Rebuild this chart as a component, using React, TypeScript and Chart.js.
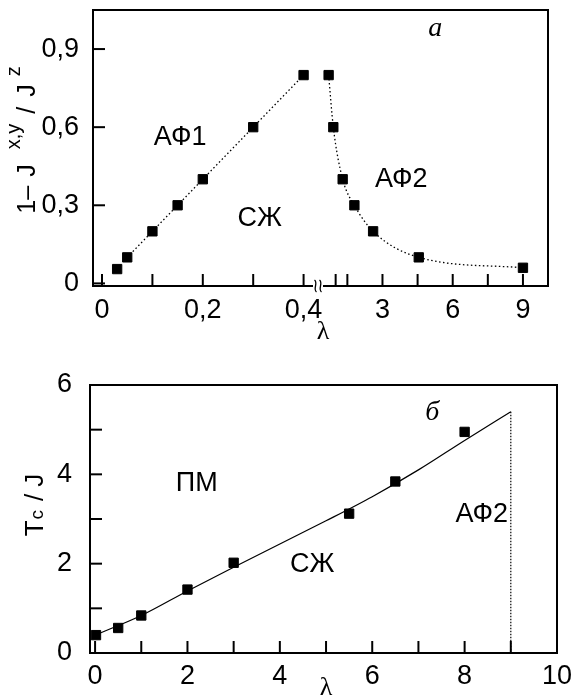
import React, { useEffect, useRef } from 'react';
import { Chart, registerables } from 'chart.js';

Chart.register(...registerables);

const SANS = '"Liberation Sans", Arial, Helvetica, sans-serif';
const SERIF = '"Liberation Serif", "Times New Roman", serif';

// ---------- panel a (top) ----------
const topLeftLambda = [0.03, 0.05, 0.1, 0.15, 0.2, 0.3, 0.4];
const topLeftValue = [0.055, 0.1, 0.2, 0.3, 0.4, 0.6, 0.8];
const topRightLambda = [0.7, 0.9, 1.3, 1.8, 2.6, 4.55, 9];
const topRightValue = [0.8, 0.6, 0.4, 0.3, 0.2, 0.1, 0.06];

const topYTicks = [0, 0.3, 0.6, 0.9];
const topLeftTicks = [0, 0.1, 0.2, 0.3, 0.4];
const topLeftLabels = [0, 0.2, 0.4];
const topRightTicks = [1, 1.5, 3, 4.5, 6, 7.5, 9];
const topRightLabels = [3, 6, 9];

const topRegionText = ['АФ1', 'СЖ', 'АФ2'];
const topRegionAxis = ['x1', 'x1', 'x2'];
const topRegionLambda = [0.155, 0.313, 3.8];
const topRegionValue = [0.56, 0.25, 0.4];
const topPanelLetter = 'а';
const topPanelLetterLambda = 5.25;
const topPanelLetterValue = 0.98;

// ---------- panel б (bottom) ----------
const tcLambda = [0.02, 0.5, 1, 2, 3, 5.5, 6.5, 8];
const tcValue = [0.4, 0.56, 0.84, 1.42, 2.02, 3.12, 3.84, 4.95];
const fitLambda = [0, 1, 2, 3, 4, 5, 6, 7, 8, 9];
const fitValue = [0.4, 0.84, 1.39, 1.92, 2.44, 2.96, 3.5, 4.1, 4.76, 5.4];
const boundaryLambda = [9, 9];
const boundaryValue = [5.4, 0];

const botXTicks = [0, 1, 2, 3, 4, 5, 6, 7, 8, 9, 10];
const botXLabels = [0, 2, 4, 6, 8, 10];
const botYTicks = [0, 1, 2, 3, 4, 5, 6];
const botYLabels = [0, 2, 4, 6];

const botRegionText = ['ПМ', 'СЖ', 'АФ2'];
const botRegionLambda = [2.2, 4.7, 8.37];
const botRegionValue = [3.8, 1.97, 3.11];
const botPanelLetter = 'б';
const botPanelLetterLambda = 7.3;
const botPanelLetterValue = 5.37;

const TICK_FONT = 27;
const fmt = (v: number) => (v === 0 ? '0' : String(v).replace('.', ','));
const pts = (xs: number[], ys: number[]) => xs.map((x, i) => ({ x, y: ys[i] }));

type Part = { text: string; size: number; dy: number; gap: number };

function drawRotated(ctx: CanvasRenderingContext2D, cx: number, cy: number, parts: Part[]) {
  ctx.save();
  ctx.translate(cx, cy);
  ctx.rotate(-Math.PI / 2);
  ctx.fillStyle = '#000';
  ctx.textAlign = 'left';
  ctx.textBaseline = 'alphabetic';
  let total = 0;
  for (const p of parts) {
    ctx.font = `${p.size}px ${SANS}`;
    total += p.gap + ctx.measureText(p.text).width;
  }
  let x = -total / 2;
  for (const p of parts) {
    ctx.font = `${p.size}px ${SANS}`;
    x += p.gap;
    ctx.fillText(p.text, x, p.dy);
    x += ctx.measureText(p.text).width;
  }
  ctx.restore();
}

function tickMarks(chart: any) {
  const { ctx, chartArea: a } = chart;
  const len = 12;
  ctx.save();
  ctx.strokeStyle = '#000';
  ctx.lineWidth = 2;
  Object.values(chart.scales).forEach((s: any) => {
    const list: number[] = s.options.markTicks || [];
    list.forEach((v) => {
      const p = s.getPixelForValue(v);
      ctx.beginPath();
      if (s.isHorizontal()) {
        ctx.moveTo(p, a.bottom);
        ctx.lineTo(p, a.bottom - len);
      } else {
        ctx.moveTo(a.left, p);
        ctx.lineTo(a.left + len, p);
      }
      ctx.stroke();
    });
  });
  ctx.restore();
}

const markerDs = (data: any[], xAxisID: string) => ({
  data,
  xAxisID,
  yAxisID: 'y',
  showLine: false,
  pointStyle: 'rect',
  pointRadius: 6.6,
  pointHoverRadius: 6.6,
  backgroundColor: '#000',
  borderColor: '#000',
  borderWidth: 1,
});

const lineDs = (data: any[], xAxisID: string, dash: number[], width: number, mono: boolean) => ({
  data,
  xAxisID,
  yAxisID: 'y',
  showLine: true,
  pointRadius: 0,
  pointHoverRadius: 0,
  borderColor: '#000',
  borderWidth: width,
  borderDash: dash,
  cubicInterpolationMode: mono ? 'monotone' : 'default',
  fill: false,
});

const tickCfg = (labels: number[], padding: number) => ({
  autoSkip: false,
  maxRotation: 0,
  minRotation: 0,
  padding,
  color: '#000',
  font: { family: SANS, size: TICK_FONT, lineHeight: 1 },
  callback: (v: any) => (labels.includes(Number(v)) ? fmt(Number(v)) : ''),
});

const fitX = (h: number) => (s: any) => {
  s.height = h;
  s.paddingLeft = 0;
  s.paddingRight = 0;
};
const fitY = (w: number) => (s: any) => {
  s.width = w;
  s.paddingTop = 0;
  s.paddingBottom = 0;
};

export default function App() {
  const topRef = useRef<HTMLCanvasElement>(null);
  const botRef = useRef<HTMLCanvasElement>(null);

  useEffect(() => {
    // ----- top chart -----
    const topPlugin = {
      id: 'topDecor',
      beforeDatasetsDraw(chart: any) {
        const { ctx, chartArea: a } = chart;
        const x1 = chart.scales.x1;
        const x2 = chart.scales.x2;
        const brk = (x1.right + x2.left) / 2;
        ctx.save();
        ctx.strokeStyle = '#000';
        ctx.lineWidth = 2;
        ctx.beginPath();
        ctx.moveTo(brk - 5, a.bottom);
        ctx.lineTo(a.left, a.bottom);
        ctx.lineTo(a.left, a.top);
        ctx.lineTo(a.right, a.top);
        ctx.lineTo(a.right, a.bottom);
        ctx.lineTo(brk + 5, a.bottom);
        ctx.stroke();
        ctx.lineWidth = 1.3;
        [-2.5, 2.5].forEach((off) => {
          const cx = brk + off;
          ctx.beginPath();
          ctx.moveTo(cx - 1, a.bottom - 6);
          ctx.bezierCurveTo(cx + 3, a.bottom - 3, cx - 3, a.bottom + 3, cx + 1, a.bottom + 6);
          ctx.stroke();
        });
        ctx.restore();
        tickMarks(chart);
      },
      afterDraw(chart: any) {
        const { ctx } = chart;
        const y = chart.scales.y;
        ctx.save();
        ctx.fillStyle = '#000';
        ctx.textAlign = 'center';
        ctx.textBaseline = 'middle';
        ctx.font = `${TICK_FONT}px ${SANS}`;
        topRegionText.forEach((t, i) => {
          const sx = chart.scales[topRegionAxis[i]];
          ctx.fillText(t, sx.getPixelForValue(topRegionLambda[i]), y.getPixelForValue(topRegionValue[i]));
        });
        ctx.font = `italic 28px ${SERIF}`;
        ctx.fillText(topPanelLetter, chart.scales.x2.getPixelForValue(topPanelLetterLambda), y.getPixelForValue(topPanelLetterValue));
        ctx.font = `26px ${SERIF}`;
        ctx.fillText('λ', 323, 332);
        ctx.restore();
        drawRotated(ctx, 35, 140, [
          { text: '1–', size: 25, dy: 0, gap: 0 },
          { text: 'J', size: 25, dy: 0, gap: 9 },
          { text: 'x,y', size: 20, dy: -15, gap: 15 },
          { text: '/', size: 25, dy: 0, gap: 10 },
          { text: 'J', size: 25, dy: 0, gap: 10 },
          { text: 'z', size: 20, dy: -15, gap: 8 },
        ]);
      },
    };

    const top = new Chart(topRef.current as HTMLCanvasElement, {
      type: 'scatter',
      data: {
        datasets: [
          markerDs(pts(topLeftLambda, topLeftValue), 'x1'),
          lineDs(pts(topLeftLambda.slice(1), topLeftValue.slice(1)), 'x1', [1.5, 2.5], 1.3, false),
          lineDs(pts(topRightLambda, topRightValue), 'x2', [1.5, 2.5], 1.3, true),
          markerDs(pts(topRightLambda, topRightValue), 'x2'),
        ] as any,
      },
      options: {
        animation: false,
        responsive: false,
        events: [],
        layout: { padding: { left: 0, top: 10, right: 25, bottom: 0 } },
        plugins: { legend: { display: false }, tooltip: { enabled: false } },
        scales: {
          x1: {
            type: 'linear',
            position: 'bottom',
            stack: 'xb',
            stackWeight: 225,
            min: -0.0179,
            max: 0.4286,
            markTicks: topLeftTicks,
            grid: { display: false },
            border: { display: false },
            afterBuildTicks: (s: any) => { s.ticks = topLeftTicks.map((v) => ({ value: v })); },
            afterFit: fitX(59),
            ticks: tickCfg(topLeftLabels, 3),
          } as any,
          x2: {
            type: 'linear',
            position: 'bottom',
            stack: 'xb',
            stackWeight: 230,
            min: 0.246,
            max: 10.07,
            markTicks: topRightTicks,
            grid: { display: false },
            border: { display: false },
            afterBuildTicks: (s: any) => { s.ticks = topRightTicks.map((v) => ({ value: v })); },
            afterFit: fitX(59),
            ticks: tickCfg(topRightLabels, 3),
          } as any,
          y: {
            type: 'linear',
            position: 'left',
            min: -0.01,
            max: 1.05,
            markTicks: topYTicks,
            grid: { display: false },
            border: { display: false },
            afterBuildTicks: (s: any) => { s.ticks = topYTicks.map((v) => ({ value: v })); },
            afterFit: fitY(93),
            ticks: tickCfg(topYTicks, 6),
          } as any,
        },
      },
      plugins: [topPlugin],
    });

    // ----- bottom chart -----
    const botPlugin = {
      id: 'botDecor',
      beforeDatasetsDraw(chart: any) {
        const { ctx, chartArea: a } = chart;
        ctx.save();
        ctx.strokeStyle = '#000';
        ctx.lineWidth = 2;
        ctx.strokeRect(a.left, a.top, a.right - a.left, a.bottom - a.top);
        ctx.restore();
        tickMarks(chart);
      },
      afterDraw(chart: any) {
        const { ctx } = chart;
        const x = chart.scales.x;
        const y = chart.scales.y;
        ctx.save();
        ctx.fillStyle = '#000';
        ctx.textAlign = 'center';
        ctx.textBaseline = 'middle';
        ctx.font = `${TICK_FONT}px ${SANS}`;
        botRegionText.forEach((t, i) => {
          ctx.fillText(t, x.getPixelForValue(botRegionLambda[i]), y.getPixelForValue(botRegionValue[i]));
        });
        ctx.font = `italic 28px ${SERIF}`;
        ctx.fillText(botPanelLetter, x.getPixelForValue(botPanelLetterLambda), y.getPixelForValue(botPanelLetterValue));
        ctx.font = `26px ${SERIF}`;
        ctx.fillText('λ', 326, 343);
        ctx.restore();
        drawRotated(ctx, 43, 160, [
          { text: 'T', size: 26, dy: 0, gap: 0 },
          { text: 'c', size: 19, dy: 0, gap: 1 },
          { text: '/', size: 26, dy: 0, gap: 9 },
          { text: 'J', size: 26, dy: 0, gap: 7 },
        ]);
      },
    };

    const bot = new Chart(botRef.current as HTMLCanvasElement, {
      type: 'scatter',
      data: {
        datasets: [
          lineDs(pts(fitLambda, fitValue), 'x', [], 1.2, true),
          lineDs(pts(boundaryLambda, boundaryValue), 'x', [1.5, 1.5], 1.2, false),
          markerDs(pts(tcLambda, tcValue), 'x'),
        ] as any,
      },
      options: {
        animation: false,
        responsive: false,
        events: [],
        layout: { padding: { left: 0, top: 40, right: 16, bottom: 0 } },
        plugins: { legend: { display: false }, tooltip: { enabled: false } },
        scales: {
          x: {
            type: 'linear',
            position: 'bottom',
            min: -0.11,
            max: 10,
            markTicks: botXTicks,
            grid: { display: false },
            border: { display: false },
            afterBuildTicks: (s: any) => { s.ticks = botXTicks.map((v) => ({ value: v })); },
            afterFit: fitX(45),
            ticks: tickCfg(botXLabels, 2),
          } as any,
          y: {
            type: 'linear',
            position: 'left',
            min: 0,
            max: 6,
            markTicks: botYTicks,
            grid: { display: false },
            border: { display: false },
            afterBuildTicks: (s: any) => { s.ticks = botYTicks.map((v) => ({ value: v })); },
            afterFit: fitY(90),
            ticks: tickCfg(botYLabels, 10),
          } as any,
        },
      },
      plugins: [botPlugin],
    });

    return () => {
      top.destroy();
      bot.destroy();
    };
  }, []);

  return (
    <div style={{ position: 'absolute', left: 0, top: 0, width: 573, height: 698, background: '#fff' }}>
      <canvas ref={topRef} width={573} height={345} style={{ position: 'absolute', left: 0, top: 0 }} />
      <canvas ref={botRef} width={573} height={353} style={{ position: 'absolute', left: 0, top: 345 }} />
    </div>
  );
}
